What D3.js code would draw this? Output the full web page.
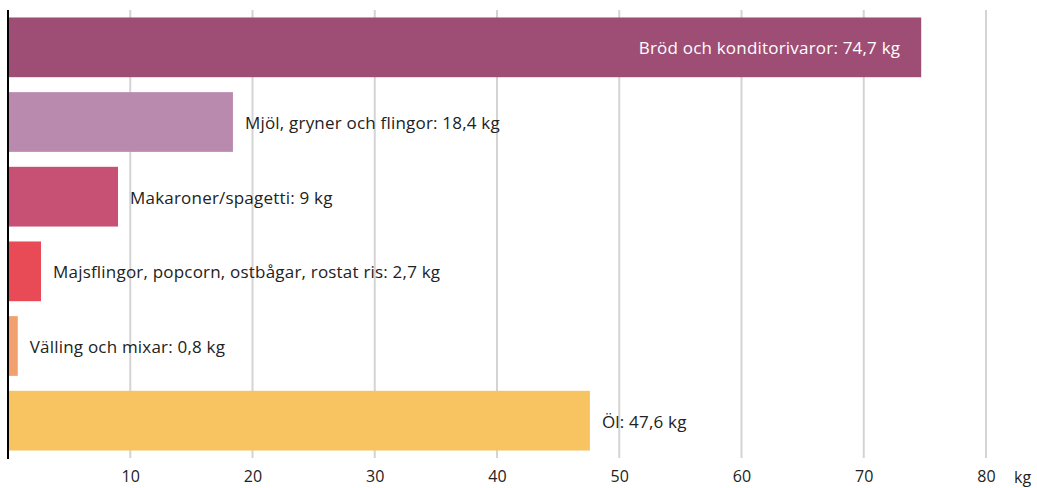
<!DOCTYPE html>
<html>
<head>
  <meta charset="utf-8">
  <script src="https://cdn.jsdelivr.net/npm/d3@7"></script>
  <style>
    body { margin: 0; background: #fff; }
    text { font-family: "Open Sans", Lato, sans-serif; }
  </style>
</head>
<body>
  <svg id="chart" width="1037" height="488"></svg>
  <script>
    // data
    const categories = [
      "Bröd och konditorivaror",
      "Mjöl, gryner och flingor",
      "Makaroner/spagetti",
      "Majsflingor, popcorn, ostbågar, rostat ris",
      "Välling och mixar",
      "Öl"
    ];
    const values = [74.7, 18.4, 9, 2.7, 0.8, 47.6];
    const valueLabels = ["74,7", "18,4", "9", "2,7", "0,8", "47,6"];
    const colors = ["#9e4d74", "#b98aad", "#c75174", "#e84b55", "#f1a06e", "#f8c462"];
    const ticks = [10, 20, 30, 40, 50, 60, 70, 80];

    const data = categories.map((c, i) => ({
      name: c, value: values[i], label: valueLabels[i], color: colors[i]
    }));

    const svg = d3.select("#chart");
    const plotTop = 10, plotBottom = 458;

    const x = d3.scaleLinear().domain([0, 80]).range([8, 986]);
    const y = d3.scaleBand()
      .domain(categories)
      .range([plotTop, plotBottom])
      .paddingInner(0.2)
      .paddingOuter(0.1);

    // grid lines
    svg.append("g")
      .selectAll("line")
      .data(ticks)
      .join("line")
      .attr("x1", d => x(d)).attr("x2", d => x(d))
      .attr("y1", plotTop).attr("y2", plotBottom)
      .attr("stroke", "#d4d4d4")
      .attr("stroke-width", 2);

    // bars
    svg.append("g")
      .selectAll("rect")
      .data(data)
      .join("rect")
      .attr("x", x(0))
      .attr("y", d => y(d.name))
      .attr("width", d => x(d.value) - x(0))
      .attr("height", y.bandwidth())
      .attr("fill", d => d.color);

    // labels: inside for the long bar, outside for the rest
    svg.append("g")
      .selectAll("text")
      .data(data)
      .join("text")
      .attr("x", d => d.value > 60 ? x(d.value) - 21 : x(d.value) + 12)
      .attr("y", d => y(d.name) + y.bandwidth() / 2 + 1)
      .attr("dy", "0.35em")
      .attr("text-anchor", d => d.value > 60 ? "end" : "start")
      .attr("fill", d => d.value > 60 ? "#fff" : "#222")
      .style("font-size", "17px")
      .style("letter-spacing", "0.2px")
      .text(d => `${d.name}: ${d.label} kg`);

    // bottom axis, tick labels only
    const xAxis = svg.append("g")
      .attr("transform", `translate(0, ${plotBottom})`)
      .call(d3.axisBottom(x).tickValues(ticks).tickSize(0).tickPadding(13));
    xAxis.select(".domain").remove();
    xAxis.selectAll("text")
      .attr("fill", "#222")
      .style("font-size", "16px")
      .style("font-family", "'Open Sans', Lato, sans-serif");

    svg.append("text")
      .attr("x", 1014)
      .attr("y", 477)
      .attr("dy", "0.35em")
      .attr("fill", "#222")
      .style("font-size", "16px")
      .text("kg");

    // left axis line
    svg.append("line")
      .attr("x1", x(0)).attr("x2", x(0))
      .attr("y1", plotTop).attr("y2", plotBottom + 1)
      .attr("stroke", "#000")
      .attr("stroke-width", 2);
  </script>
</body>
</html>
